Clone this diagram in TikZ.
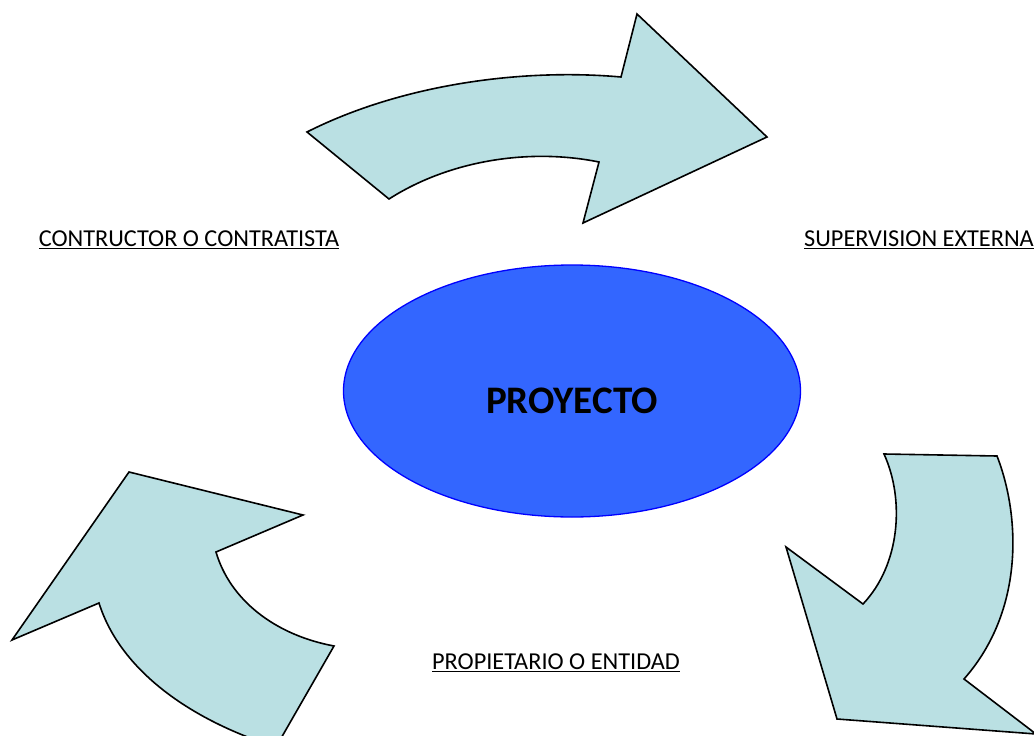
\documentclass[tikz,border=0pt]{standalone}
\usepackage{fontspec}
\setmainfont{Carlito}
\usepackage{tikz}

\definecolor{flechaazul}{RGB}{186,224,227}
\definecolor{proyazul}{RGB}{51,102,255}

\tikzset{
	flecha/.style={fill=flechaazul, draw=black, line width=1.6pt, line join=miter},
	etiqueta/.style={font=\fontsize{24.3}{28}\selectfont, inner sep=0pt},
	centro/.style={ellipse, fill=proyazul, draw=blue, line width=1.3pt,
		minimum width=457pt, minimum height=252pt, inner sep=0pt,
		font=\fontsize{39}{44}\selectfont\bfseries}
}
\usetikzlibrary{shapes.geometric}

\begin{document}
\begin{tikzpicture}[x=1pt, y=-1pt]
		\useasboundingbox (0,0) rectangle (1034,736);
		\clip (0,0) rectangle (1034,736);
		% flecha superior
		\draw[flecha] (307,132) .. controls (400,85) and (520,68) .. (621,77)
			-- (637,14) -- (767,137) -- (583,223) -- (599,162)
			.. controls (530,148) and (450,160) .. (389,199) -- cycle;
		% flecha derecha
		\draw[flecha] (884,454) -- (997,456)
			.. controls (1020,515) and (1025,610) .. (964,679)
			-- (1036,734) -- (837,719) -- (786,547) -- (863,604)
			.. controls (900,565) and (905,500) .. (884,454) -- cycle;
		% flecha izquierda
		\draw[flecha] (129,472) -- (303,515) -- (216,552)
			.. controls (230,600) and (275,635) .. (334,646)
			-- (276,747)
			.. controls (190,720) and (120,670) .. (99,603)
			-- (12,640) -- cycle;
		% centro
		\node[centro] (proyecto) at (572,391) {\raisebox{-22pt}[0pt][0pt]{PROYECTO}};
		\node[etiqueta] (contratista) at (189,240) {\underline{CONTRUCTOR O CONTRATISTA}};
		\node[etiqueta] (supervision) at (919,240) {\underline{SUPERVISION EXTERNA}};
		\node[etiqueta] (propietario) at (556,663) {\underline{PROPIETARIO O ENTIDAD}};
	\end{tikzpicture}
\end{document}
